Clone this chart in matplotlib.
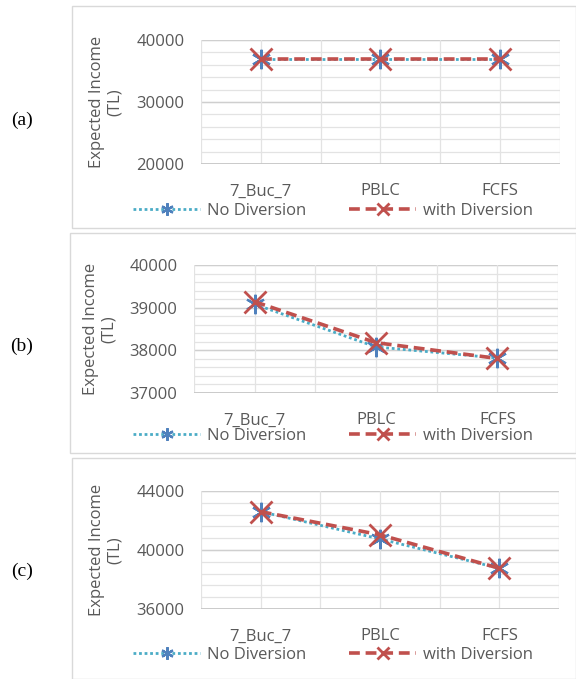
import matplotlib
matplotlib.use("Agg")
import matplotlib.pyplot as plt
from matplotlib.patches import Rectangle
from matplotlib.lines import Line2D
import numpy as np

categories = ["7_Buc_7", "PBLC", "FCFS"]
panel_labels = ["(a)", "(b)", "(c)"]

no_div_a = [37000, 37000, 37000]
with_div_a = [37000, 37000, 37000]
no_div_b = [39080, 38080, 37820]
with_div_b = [39140, 38180, 37810]
no_div_c = [42600, 40750, 38760]
with_div_c = [42600, 41030, 38760]

ylims = [(20000, 40000), (37000, 40000), (36000, 44000)]
major_steps = [10000, 1000, 4000]
minor_steps = [2000, 200, 800]

W, H = 576, 679
fig = plt.figure(figsize=(W / 100, H / 100), dpi=100)
fig.patch.set_facecolor("white")

FONT = "Open Sans"
FS = 12
TXT = "#595959"
RED = "#C0504D"
BLUE = "#4F81BD"
CYAN = "#4BACC6"

axes_px = [(201, 40, 560, 164), (194, 265, 558, 393), (201, 491, 559, 609)]
frames_px = [(72, 6, 576, 228), (70, 233, 576, 453), (72, 458, 576, 679)]
label_y_px = [120, 346, 571]
legend_y_px = [211, 436, 655]
ylabel_x_px = [106, 100, 106]

data = [(no_div_a, with_div_a), (no_div_b, with_div_b), (no_div_c, with_div_c)]

for i in range(3):
    fl, ft, fr, fb = frames_px[i]
    fig.patches.append(Rectangle((fl / W, 1 - fb / H), (fr - fl) / W, (fb - ft) / H,
                                 transform=fig.transFigure, fill=False,
                                 edgecolor="#d9d9d9", linewidth=1.0))
    l, t, r, b = axes_px[i]
    ax = fig.add_axes([l / W, 1 - b / H, (r - l) / W, (b - t) / H])
    ax.set_facecolor("white")
    lo, hi = ylims[i]
    ax.set_ylim(lo, hi)
    ax.set_xlim(-0.5, 2.5)
    for y in np.arange(lo, hi + 1, minor_steps[i]):
        ax.axhline(y, color="#e3e3e3", lw=0.9, zorder=0)
    for y in np.arange(lo, hi + 1, major_steps[i]):
        ax.axhline(y, color="#cfcfcf", lw=1.0, zorder=0)
    for x in np.arange(-0.5, 2.51, 0.5):
        ax.axvline(x, color="#e3e3e3", lw=0.9, zorder=0)
    ax.axhline(lo, color="#c4c4c4", lw=1.2, zorder=1)
    for s in ax.spines.values():
        s.set_visible(False)
    yt = np.arange(lo, hi + 1, major_steps[i])
    ax.set_yticks(yt)
    ax.set_yticklabels([str(int(v)) for v in yt], fontsize=FS, color=TXT, family=FONT)
    ax.set_xticks(range(3))
    ax.set_xticklabels(categories, fontsize=FS, color=TXT, family=FONT)
    ax.tick_params(axis="both", length=0)
    ax.tick_params(axis="y", pad=12)
    ax.tick_params(axis="x", pad=14)
    nd, wd = data[i]
    x = np.arange(3)
    ax.plot(x, nd, color=CYAN, lw=2.0, ls=(0, (1, 1)), zorder=3)
    ax.plot(x, nd, ls="none", marker=(6, 2, 0), markersize=14, mec=BLUE, mew=1.6, zorder=4)
    ax.plot(x, wd, color=RED, lw=2.6, ls=(0, (3, 1.6)), zorder=5)
    ax.plot(x, wd, ls="none", marker="x", markersize=16, mec=RED, mew=2.0, zorder=6)

    fig.text(ylabel_x_px[i] / W, 1 - ((t + b) / 2) / H, "Expected Income\n(TL)",
             rotation=90, ha="center", va="center", fontsize=FS, color=TXT,
             family=FONT, linespacing=1.2)
    fig.text(22 / W, 1 - label_y_px[i] / H, panel_labels[i], ha="center", va="center",
             fontsize=14, family="Liberation Serif", color="black")

    h1 = Line2D([], [], color=CYAN, lw=2.0, ls=(0, (1, 1)), marker=(6, 2, 0),
                markersize=9, mec=BLUE, mew=1.6)
    h2 = Line2D([], [], color=RED, lw=2.6, ls=(0, (3, 1.6)), marker="x",
                markersize=8, mec=RED, mew=2.0)
    fig.legend([h1, h2], ["No Diversion", "with Diversion"],
               loc="center", bbox_to_anchor=(333 / W, 1 - legend_y_px[i] / H),
               ncol=2, frameon=False, handlelength=4.0, handletextpad=0.4,
               columnspacing=2.6, borderpad=0,
               prop={"family": FONT, "size": FS}, labelcolor=TXT)

fig.savefig("out.png", dpi=100, facecolor="white")
